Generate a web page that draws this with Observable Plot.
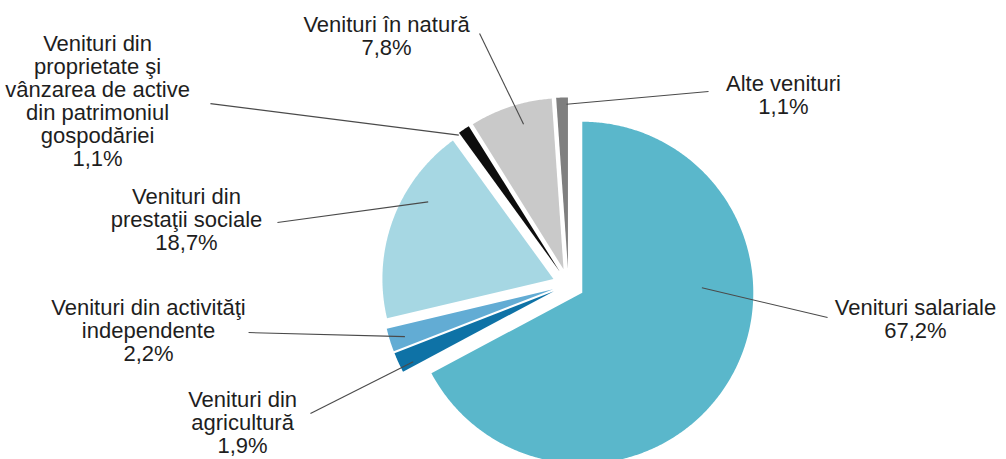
<!DOCTYPE html>
<html>
<head>
<meta charset="utf-8">
<script src="https://cdn.jsdelivr.net/npm/d3@7"></script>
<script src="https://cdn.jsdelivr.net/npm/@observablehq/plot@0.6"></script>
<style>
  html, body { margin: 0; padding: 0; background: #fff; }
  #chart svg { display: block; }
</style>
</head>
<body>
<div id="chart"></div>
<script>
// ---- data ----
const names = [
  "Venituri salariale",
  "Venituri din agricultură",
  "Venituri din activităţi independente",
  "Venituri din prestaţii sociale",
  "Venituri din proprietate şi vânzarea de active din patrimoniul gospodăriei",
  "Venituri în natură",
  "Alte venituri"
];
const shares = [67.2, 1.9, 2.2, 18.7, 1.1, 7.8, 1.1];
const labelLines = [
  ["Venituri salariale"],
  ["Venituri din", "agricultură"],
  ["Venituri din activităţi", "independente"],
  ["Venituri din", "prestaţii sociale"],
  ["Venituri din", "proprietate şi", "vânzarea de active", "din patrimoniul", "gospodăriei"],
  ["Venituri în natură"],
  ["Alte venituri"]
];
const colors = ["#5ab7cb", "#0e72a6", "#62acd4", "#a6d7e3", "#0d0d0d", "#c9c9c9", "#7f7f7f"];

// ---- layout (pie units: centre 0,0, radius 1, y up) ----
const explode = 0.094;
const labelAt = [[2.029, -0.205], [-1.906, -0.808], [-2.456, -0.270], [-2.234, 0.382], [-2.754, 1.075], [-1.064, 1.450], [1.257, 1.105]];
const leaderOut = [[1.515, -0.193], [-1.509, -0.754], [-1.871, -0.281], [-1.702, 0.363], [-2.094, 1.058], [-0.520, 1.468], [0.819, 1.129]];
const leaderIn = [[87.6, 0.70], [243.4, 0.92], [252.3, 0.91], [301.6, 0.86], [323.5, 0.99], [344.6, 0.88], [359.5, 0.96]];

const rad = d => d * Math.PI / 180;
const total = d3.sum(shares);
let acc = 0;
const slices = shares.map((v, i) => {
  const a0 = acc / total * 360; acc += v; const a1 = acc / total * 360;
  const mid = (a0 + a1) / 2;
  const cx = explode * Math.sin(rad(mid)), cy = explode * Math.cos(rad(mid));
  return {i, name: names[i], v, a0, a1, cx, cy};
});

const pts = [];
for (const s of slices) {
  pts.push({name: s.name, x: s.cx, y: s.cy});
  const n = Math.max(4, Math.ceil((s.a1 - s.a0) / 0.5));
  for (let k = 0; k <= n; k++) {
    const a = rad(s.a0 + (s.a1 - s.a0) * k / n);
    pts.push({name: s.name, x: s.cx + Math.sin(a), y: s.cy + Math.cos(a)});
  }
  pts.push({name: s.name, x: s.cx, y: s.cy});
}

const fmt = v => v.toFixed(1).replace(".", ",") + "%";
const labels = slices.map(s => ({
  text: [...labelLines[s.i], fmt(s.v)].join("\n"),
  x: labelAt[s.i][0], y: labelAt[s.i][1]
}));
const leaders = slices.map(s => {
  const [ang, f] = leaderIn[s.i];
  return {
    x1: s.cx + f * Math.sin(rad(ang)), y1: s.cy + f * Math.cos(rad(ang)),
    x2: leaderOut[s.i][0], y2: leaderOut[s.i][1]
  };
});

const W = 1006, H = 459, R = 171, CX = 568, CY = 284;
const chart = Plot.plot({
  width: W, height: H, margin: 0,
  x: {domain: [-CX / R, (W - CX) / R], axis: null},
  y: {domain: [-(H - CY) / R, CY / R], axis: null},
  color: {domain: names, range: colors},
  style: {background: "#fff", fontFamily: "'Liberation Sans', Arial, sans-serif"},
  marks: [
    Plot.line(pts, {x: "x", y: "y", z: "name", fill: "name", stroke: "none", curve: "linear"}),
    Plot.link(leaders, {x1: "x1", y1: "y1", x2: "x2", y2: "y2", stroke: "#4a4a4a", strokeWidth: 1.1}),
    Plot.text(labels, {x: "x", y: "y", text: "text", fontSize: 22, lineHeight: 1.045, fill: "#1e1e1e", textAnchor: "middle"})
  ]
});
document.getElementById("chart").append(chart);
</script>
</body>
</html>
